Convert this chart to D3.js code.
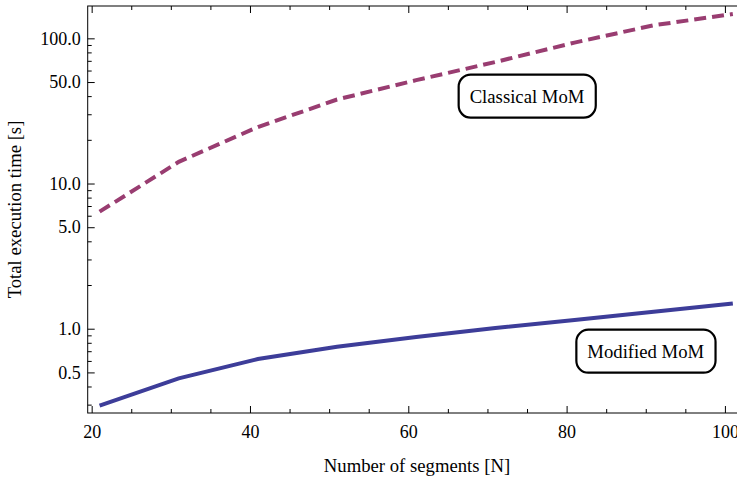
<!DOCTYPE html>
<html>
<head>
<meta charset="utf-8">
<script src="https://cdn.jsdelivr.net/npm/d3@7"></script>
<style>
  html, body { margin: 0; padding: 0; background: #fff; }
  svg { display: block; }
  text { font-family: "Liberation Serif", "Times New Roman", serif; }
</style>
</head>
<body>
<svg id="chart" width="737" height="479"></svg>
<script>
// ---- data ----
const segments = [21, 31, 41, 51, 61, 71, 81, 91, 101];
const classicalMoM = [6.4, 14.1, 24.5, 37.9, 51.5, 68.7, 93.5, 123, 147];
const modifiedMoM = [0.295, 0.455, 0.618, 0.752, 0.877, 1.01, 1.15, 1.31, 1.49];
const xMajorTicks = [20, 40, 60, 80, 100];
const xMinorTicks = [25, 30, 35, 45, 50, 55, 65, 70, 75, 85, 90, 95];
const yMajorTicks = [0.5, 1, 5, 10, 50, 100];
const yMinorTicks = [0.3, 0.4, 0.6, 0.7, 0.8, 0.9, 2, 3, 4, 6, 7, 8, 9, 20, 30, 40, 60, 70, 80, 90];
const seriesNames = ["Classical MoM", "Modified MoM"];
const labelAnchors = [[75, 40], [90, 0.7]];

// ---- layout ----
const pL = 87.7, pR = 744.7, pT = 6, pB = 413;
const x = d3.scaleLinear().domain([19.5, 102.5]).range([pL, pR]);
const y = d3.scaleLog().domain([0.2627, 167]).range([pB, pT]);

const svg = d3.select("#chart");
const g = svg.append("g");

// frame
g.append("rect")
  .attr("x", pL).attr("y", pT)
  .attr("width", pR - pL).attr("height", pB - pT)
  .attr("fill", "none").attr("stroke", "#000").attr("stroke-width", 1);

// x axis ticks (bottom & top)
const fmtX = d3.format("d");
const xAxisB = d3.axisBottom(x).tickValues(xMajorTicks).tickSize(-7).tickPadding(12).tickFormat(fmtX);
const xAxisBm = d3.axisBottom(x).tickValues(xMinorTicks).tickSize(-4).tickFormat("");
const xAxisT = d3.axisTop(x).tickValues(xMajorTicks).tickSize(-7).tickFormat("");
const xAxisTm = d3.axisTop(x).tickValues(xMinorTicks).tickSize(-4).tickFormat("");

function styleAxis(sel) {
  sel.select(".domain").remove();
  sel.selectAll("line").attr("stroke", "#000").attr("stroke-width", 1);
  sel.selectAll("text").attr("fill", "#000")
     .style("font-family", "'Liberation Serif', 'Times New Roman', serif")
     .style("font-size", "18px");
}
g.append("g").attr("transform", `translate(0,${pB})`).call(xAxisB).call(styleAxis);
g.append("g").attr("transform", `translate(0,${pB})`).call(xAxisBm).call(styleAxis);
g.append("g").attr("transform", `translate(0,${pT})`).call(xAxisT).call(styleAxis);
g.append("g").attr("transform", `translate(0,${pT})`).call(xAxisTm).call(styleAxis);

// y axis ticks
const fmtY = d3.format(".1f");
const yAxisL = d3.axisLeft(y).tickValues(yMajorTicks).tickSize(-7).tickPadding(7).tickFormat(fmtY);
const yAxisLm = d3.axisLeft(y).tickValues(yMinorTicks).tickSize(-4).tickFormat("");
g.append("g").attr("transform", `translate(${pL},0)`).call(yAxisL).call(styleAxis);
g.append("g").attr("transform", `translate(${pL},0)`).call(yAxisLm).call(styleAxis);

// axis titles
g.append("text")
  .attr("x", 417).attr("y", 472)
  .attr("text-anchor", "middle")
  .style("font-size", "18.7px")
  .text("Number of segments [N]");
g.append("text")
  .attr("transform", `translate(21,${(pT + pB) / 2}) rotate(-90)`)
  .attr("text-anchor", "middle")
  .style("font-size", "18.7px")
  .text("Total execution time [s]");

// lines
svg.append("defs").append("clipPath").attr("id", "clip")
  .append("rect").attr("x", pL).attr("y", pT).attr("width", pR - pL).attr("height", pB - pT);

const line = d3.line().x(d => x(d[0])).y(d => y(d[1]));
const plot = g.append("g").attr("clip-path", "url(#clip)");

plot.append("path")
  .datum(segments.map((s, i) => [s, classicalMoM[i]]))
  .attr("d", line)
  .attr("fill", "none")
  .attr("stroke", "#993d71")
  .attr("stroke-width", 4)
  .attr("stroke-dasharray", "12,6");

plot.append("path")
  .datum(segments.map((s, i) => [s, modifiedMoM[i]]))
  .attr("d", line)
  .attr("fill", "none")
  .attr("stroke", "#3d3d99")
  .attr("stroke-width", 4);

// labels in rounded boxes
seriesNames.forEach((name, i) => {
  const cx = x(labelAnchors[i][0]), cy = y(labelAnchors[i][1]);
  const lg = g.append("g");
  const t = lg.append("text")
    .attr("x", cx).attr("y", cy)
    .attr("text-anchor", "middle")
    .attr("dominant-baseline", "central")
    .style("font-size", "18.7px")
    .text(name);
  const bb = t.node().getBBox();
  const padX = 11, h = 43;
  lg.insert("rect", "text")
    .attr("x", bb.x - padX).attr("y", cy - h / 2)
    .attr("width", bb.width + 2 * padX).attr("height", h)
    .attr("rx", 12).attr("ry", 12)
    .attr("fill", "#fff").attr("stroke", "#000").attr("stroke-width", 2.2);
});
</script>
</body>
</html>
